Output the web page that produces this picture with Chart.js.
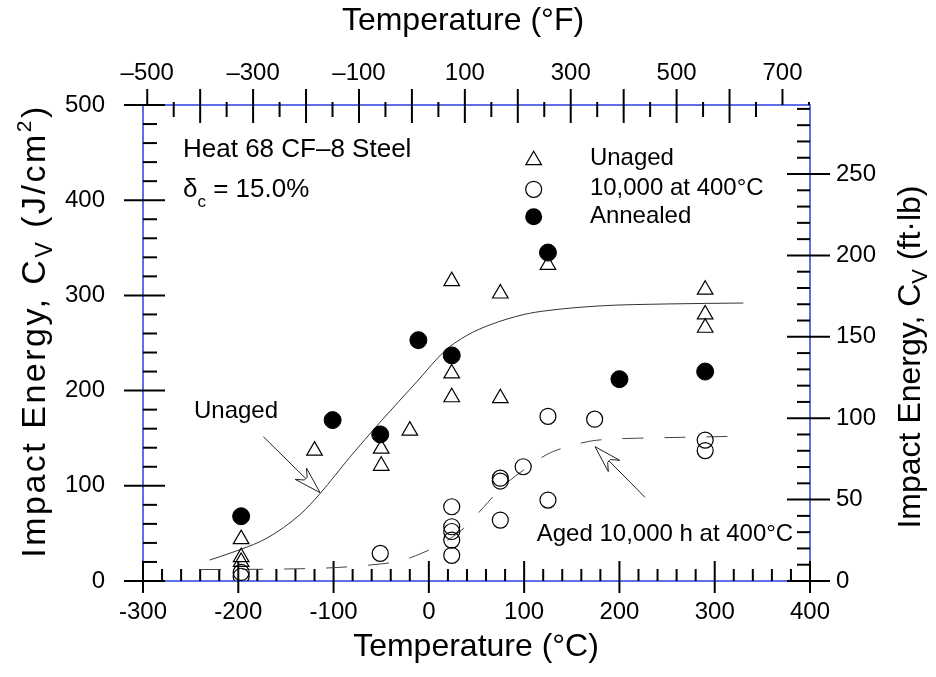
<!DOCTYPE html>
<html>
<head>
<meta charset="utf-8">
<script src="https://cdn.jsdelivr.net/npm/chart.js@4.4.1/dist/chart.umd.min.js"></script>
<style>
  html, body { margin: 0; padding: 0; background: #fff; }
</style>
</head>
<body>
<canvas id="cvChart" width="936" height="677"></canvas>
<script>
// Temperature in degC, impact energy in J/cm2
const unagedTemp = [-197, -197, -197, -120, -50, -50, -20, 24, 24, 24, 75, 75, 125, 290, 290, 290];
const unagedCv   = [44, 25, 20, 137, 139, 121, 158, 315, 218, 193, 302, 192, 332, 306, 280, 266];

const agedTemp = [-197, -197, -51, 24, 24, 24, 24, 24, 75, 75, 75, 99, 125, 125, 174, 290, 290];
const agedCv   = [9, 5, 29, 78, 57, 52, 43, 27, 108, 105, 64, 120, 173, 85, 170, 148, 137];

const annealedTemp = [-197, -101, -51, -11, 24, 125, 200, 290];
const annealedCv   = [68, 169, 154, 253, 237, 345, 212, 220];

// fitted curves as drawn in the figure
const unagedFitTemp = [-230, -198, -170, -135, -114, -83, -51, -12, 17, 40, 64, 100, 124, 180, 250, 330];
const unagedFitCv   = [22, 33, 45, 70, 92, 130, 167, 210, 242, 258, 269, 280, 284, 289, 291, 292];

const agedFitTemp = [-240, -160, -100, -50, -30, -8, 15, 36, 57, 75, 100, 124, 145, 170, 190, 220, 270, 324];
const agedFitCv   = [12, 12.5, 14, 18, 21, 29, 40, 55, 77, 97, 117, 133, 141, 147, 149, 150, 151, 152];

const FONT = '"Liberation Sans", Arial, Helvetica, sans-serif';
const BLUE = '#2a40e4';
const FTLB_TO_JCM2 = 1.71;   // right axis conversion

function pts(xs, ys) {
    return xs.map((x, i) => ({ x: x, y: ys[i] }));
}

function richText(ctx, parts, x, y, align, spacing) {
    ctx.letterSpacing = (spacing || 0) + 'px';
    let w = 0;
    parts.forEach(p => { ctx.font = p[1] + 'px ' + FONT; w += ctx.measureText(p[0]).width; });
    let cx = align === 'center' ? x - w / 2 : x;
    ctx.textAlign = 'left';
    ctx.textBaseline = 'alphabetic';
    parts.forEach(p => {
        ctx.font = p[1] + 'px ' + FONT;
        ctx.fillText(p[0], cx, y + (p[2] || 0));
        cx += ctx.measureText(p[0]).width;
    });
    ctx.letterSpacing = '0px';
}

function arrow(ctx, x0, y0, x1, y1) {
    const len = Math.hypot(x1 - x0, y1 - y0);
    const ux = (x1 - x0) / len, uy = (y1 - y0) / len;
    const nx = -uy, ny = ux;
    const L = 27, W = 8, N = 20, w2 = 2;
    ctx.beginPath();
    ctx.moveTo(x0, y0);
    ctx.lineTo(x1 - ux * N, y1 - uy * N);
    ctx.stroke();
    ctx.beginPath();
    ctx.moveTo(x1, y1);
    ctx.lineTo(x1 - ux * L + nx * W, y1 - uy * L + ny * W);
    ctx.lineTo(x1 - ux * N + nx * w2, y1 - uy * N + ny * w2);
    ctx.lineTo(x1 - ux * N - nx * w2, y1 - uy * N - ny * w2);
    ctx.lineTo(x1 - ux * L - nx * W, y1 - uy * L - ny * W);
    ctx.closePath();
    ctx.stroke();
}

function drawSymbol(ctx, style, x, y) {
    ctx.save();
    ctx.lineWidth = 1.2;
    ctx.strokeStyle = '#000';
    ctx.fillStyle = '#000';
    ctx.beginPath();
    if (style === 'triangle') {
        const r = 9;
        for (let k = 0; k < 3; k++) {
            const a = k * 2 * Math.PI / 3;
            const px = x + Math.sin(a) * r, py = y - Math.cos(a) * r;
            if (k === 0) ctx.moveTo(px, py); else ctx.lineTo(px, py);
        }
        ctx.closePath();
        ctx.stroke();
    } else if (style === 'open') {
        ctx.arc(x, y, 8, 0, Math.PI * 2);
        ctx.stroke();
    } else {
        ctx.arc(x, y, 8.5, 0, Math.PI * 2);
        ctx.fill();
    }
    ctx.restore();
}

// ticks inside/outside the frame, as in the original plot
function drawTicks(ctx, scale, area, side, isMajor, spec) {
    ctx.save();
    ctx.strokeStyle = '#000';
    ctx.lineWidth = 2;
    scale.ticks.forEach(t => {
        const p = scale.getPixelForValue(t.value);
        const major = isMajor(t.value);
        const inLen = major ? spec.majIn : spec.minIn;
        const outLen = major ? spec.majOut : spec.minOut;
        let inner = inLen;
        if (spec.skipEdge && (p - area.left < 6 || area.right - p < 30)) inner = 0;
        ctx.beginPath();
        if (side === 'bottom') {
            ctx.moveTo(p, area.bottom + outLen); ctx.lineTo(p, area.bottom - inner);
        } else if (side === 'top') {
            ctx.moveTo(p, area.top - outLen); ctx.lineTo(p, area.top + inner);
        } else if (side === 'left') {
            ctx.moveTo(area.left - outLen, p); ctx.lineTo(area.left + inner, p);
        } else {
            ctx.moveTo(area.right + outLen, p); ctx.lineTo(area.right - inner, p);
        }
        ctx.stroke();
    });
    ctx.restore();
}

const framePlugin = {
    id: 'frame',
    beforeDatasetsDraw(chart) {
        const ctx = chart.ctx, a = chart.chartArea;
        ctx.save();
        ctx.strokeStyle = BLUE;
        ctx.lineWidth = 1.5;
        ctx.strokeRect(a.left, a.top, a.right - a.left, a.bottom - a.top);
        ctx.restore();
        drawTicks(ctx, chart.scales.x, a, 'bottom', v => v % 100 === 0, { majIn: 20, majOut: 12, minIn: 12, minOut: 0 });
        drawTicks(ctx, chart.scales.y, a, 'left', v => v % 100 === 0, { majIn: 22, majOut: 19, minIn: 14, minOut: 0 });
        drawTicks(ctx, chart.scales.y2, a, 'right', v => v % 50 === 0, { majIn: 23, majOut: 20, minIn: 13, minOut: 0 });
        drawTicks(ctx, chart.scales.x2, a, 'top', v => v % 100 === 0, { majIn: 18, majOut: 16, minIn: 12, minOut: 3, skipEdge: true });
    },
    afterDatasetsDraw(chart) {
        const ctx = chart.ctx;
        const sx = chart.scales.x, sy = chart.scales.y;
        const X = t => sx.getPixelForValue(t), Y = e => sy.getPixelForValue(e);
        ctx.save();
        ctx.fillStyle = '#000';

        // axis titles
        richText(ctx, [['Temperature (°C)', 32]], 476, 656, 'center');
        richText(ctx, [['Temperature (°F)', 32]], 463, 30, 'center');
        ctx.save();
        ctx.translate(45, 331);
        ctx.rotate(-Math.PI / 2);
        richText(ctx, [['Impact Energy, C', 34], ['V', 23, 7], [' (J/cm', 34], ['2', 21, -14], [')', 34]], 0, 0, 'center', 2.5);
        ctx.restore();
        ctx.save();
        ctx.translate(920, 357);
        ctx.rotate(-Math.PI / 2);
        richText(ctx, [['Impact Energy, C', 32], ['V', 22, 7], [' (ft·lb)', 32]], 0, 0, 'center');
        ctx.restore();

        // notes
        richText(ctx, [['Heat 68 CF–8 Steel', 26]], X(-258), Y(445.4), 'left');
        richText(ctx, [['δ', 26], ['c', 17, 10], [' = 15.0%', 26]], X(-258), Y(403.4), 'left');
        richText(ctx, [['Unaged', 24]], X(-246.5), Y(171.2), 'left');
        richText(ctx, [['Aged 10,000 h at 400°C', 24]], X(113.2), Y(42), 'left');

        // legend
        const legend = [['triangle', 'Unaged', 442, 437], ['open', '10,000 at 400°C', 411.4, 405.5], ['filled', 'Annealed', 382.7, 376.4]];
        legend.forEach(l => {
            drawSymbol(ctx, l[0], X(110), Y(l[2]));
            richText(ctx, [[l[1], 24]], X(169), Y(l[3]), 'left');
        });

        // arrows
        ctx.strokeStyle = '#222';
        ctx.lineWidth = 1;
        arrow(ctx, X(-173.7), Y(151.6), X(-114.2), Y(92.8));
        arrow(ctx, X(226.8), Y(87.9), X(174.4), Y(141.1));
        ctx.restore();
    }
};

const tickFont = { family: FONT, size: 24 };
const noGrid = { display: false, drawTicks: false };

new Chart(document.getElementById('cvChart'), {
    type: 'scatter',
    data: {
        datasets: [
            {
                label: 'Annealed',
                data: pts(annealedTemp, annealedCv),
                pointStyle: 'circle', pointRadius: 8.5,
                backgroundColor: '#000', borderColor: '#000', borderWidth: 1
            },
            {
                label: '10,000 at 400°C',
                data: pts(agedTemp, agedCv),
                pointStyle: 'circle', pointRadius: 8,
                backgroundColor: 'rgba(0,0,0,0)', borderColor: '#000', borderWidth: 1.2
            },
            {
                label: 'Unaged',
                data: pts(unagedTemp, unagedCv),
                pointStyle: 'triangle', pointRadius: 9,
                backgroundColor: 'rgba(0,0,0,0)', borderColor: '#000', borderWidth: 1.2
            },
            {
                type: 'line',
                label: 'Unaged fit',
                data: pts(unagedFitTemp, unagedFitCv),
                borderColor: '#333', borderWidth: 1, pointRadius: 0,
                cubicInterpolationMode: 'monotone', fill: false
            },
            {
                type: 'line',
                label: 'Aged fit',
                data: pts(agedFitTemp, agedFitCv),
                borderColor: '#444', borderWidth: 1, pointRadius: 0,
                borderDash: [21, 21],
                cubicInterpolationMode: 'monotone', fill: false
            }
        ]
    },
    options: {
        responsive: false,
        animation: false,
        layout: { padding: 0 },
        plugins: { legend: { display: false }, tooltip: { enabled: false } },
        scales: {
            x: {
                type: 'linear', position: 'bottom', min: -300, max: 400,
                grid: noGrid, border: { display: false },
                ticks: {
                    stepSize: 20, autoSkip: false, maxRotation: 0, padding: 17,
                    color: '#000', font: tickFont,
                    callback: v => (v % 100 === 0 ? String(v) : '')
                },
                afterFit: s => { s.height = 96; }
            },
            x2: {
                type: 'linear', position: 'top', min: -300 * 1.8 + 32, max: 400 * 1.8 + 32,
                grid: noGrid, border: { display: false },
                ticks: {
                    stepSize: 50, includeBounds: false, autoSkip: false, maxRotation: 0, padding: 17,
                    color: '#000', font: tickFont,
                    callback: v => (Math.abs(v % 200) === 100 ? (v < 0 ? '–' + Math.abs(v) : String(v)) : '')
                },
                afterFit: s => { s.height = 105; }
            },
            y: {
                type: 'linear', position: 'left', min: 0, max: 500,
                grid: noGrid, border: { display: false },
                ticks: {
                    stepSize: 20, autoSkip: false, padding: 38,
                    color: '#000', font: tickFont,
                    callback: v => (v % 100 === 0 ? String(v) : '')
                },
                afterFit: s => { s.width = 143; }
            },
            y2: {
                type: 'linear', position: 'right', min: 0, max: 500 / FTLB_TO_JCM2,
                grid: noGrid, border: { display: false },
                ticks: {
                    stepSize: 10, includeBounds: false, autoSkip: false, padding: 26,
                    color: '#000', font: tickFont,
                    callback: v => (v % 50 === 0 ? String(v) : '')
                },
                afterFit: s => { s.width = 126; }
            }
        }
    },
    plugins: [framePlugin]
});
</script>
</body>
</html>
